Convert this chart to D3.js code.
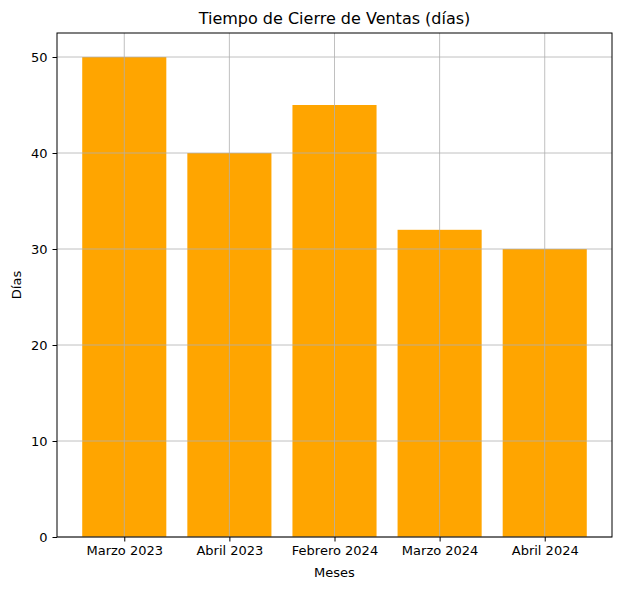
<!DOCTYPE html>
<html><head><meta charset="utf-8">
<script src="https://cdn.jsdelivr.net/npm/d3@7"></script>
<style>body{margin:0;background:#fff}</style>
</head><body><div id="chart"></div>
<script>
// data
const months = ["Marzo 2023", "Abril 2023", "Febrero 2024", "Marzo 2024", "Abril 2024"];
const days = [50, 40, 45, 32, 30];
const yTicks = [0, 10, 20, 30, 40, 50];

const W = 620, H = 590;
const margin = {top: 33, left: 57, right: 8, bottom: 53};
const width = W - margin.left - margin.right,
  height = H - margin.top - margin.bottom;

const svg = d3.select('#chart').append('svg')
  .attr('width', W).attr('height', H)
  .style('font-family', 'DejaVu Sans');

const g = svg.append('g').attr('transform', `translate(${margin.left},${margin.top})`);

const x = d3.scaleLinear().domain([-0.64, months.length - 1 + 0.64]).range([0, width]);
const y = d3.scaleLinear().domain([0, 52.5]).range([height, 0]);
const bw = x(0.8) - x(0);

g.selectAll('rect.bar').data(days).join('rect')
  .attr('class', 'bar')
  .attr('x', (d, i) => x(i) - bw / 2)
  .attr('y', d => y(d))
  .attr('width', bw)
  .attr('height', d => height - y(d))
  .attr('fill', '#FFA500');

// grid on top of bars
g.selectAll('line.gx').data(months).join('line')
  .attr('x1', (d, i) => x(i)).attr('x2', (d, i) => x(i))
  .attr('y1', 0).attr('y2', height)
  .attr('stroke', '#b0b0b0').attr('stroke-width', 0.8);
g.selectAll('line.gy').data(yTicks).join('line')
  .attr('x1', 0).attr('x2', width)
  .attr('y1', d => y(d)).attr('y2', d => y(d))
  .attr('stroke', '#b0b0b0').attr('stroke-width', 0.8);

const xAxis = g.append('g').attr('transform', `translate(0,${height})`)
  .call(d3.axisBottom(x).tickValues(d3.range(months.length)).tickFormat(i => months[i]).tickSize(4.5).tickPadding(4));
const yAxis = g.append('g')
  .call(d3.axisLeft(y).tickValues(yTicks).tickSize(4.5).tickPadding(5));
[xAxis, yAxis].forEach(a => {
  a.select('.domain').remove();
  a.selectAll('text').attr('font-size', 13).attr('font-family', 'DejaVu Sans').attr('fill', '#000');
  a.selectAll('line').attr('stroke', '#000');
});

g.append('rect').attr('width', width).attr('height', height)
  .attr('fill', 'none').attr('stroke', '#000').attr('stroke-width', 1);

svg.append('text').attr('x', margin.left + width / 2).attr('y', 24)
  .attr('text-anchor', 'middle').attr('font-size', 16).text('Tiempo de Cierre de Ventas (días)');
svg.append('text').attr('x', margin.left + width / 2).attr('y', 577)
  .attr('text-anchor', 'middle').attr('font-size', 13).text('Meses');
svg.append('text').attr('transform', `translate(21,${margin.top + height / 2}) rotate(-90)`)
  .attr('text-anchor', 'middle').attr('font-size', 13).text('Días');
</script></body></html>
